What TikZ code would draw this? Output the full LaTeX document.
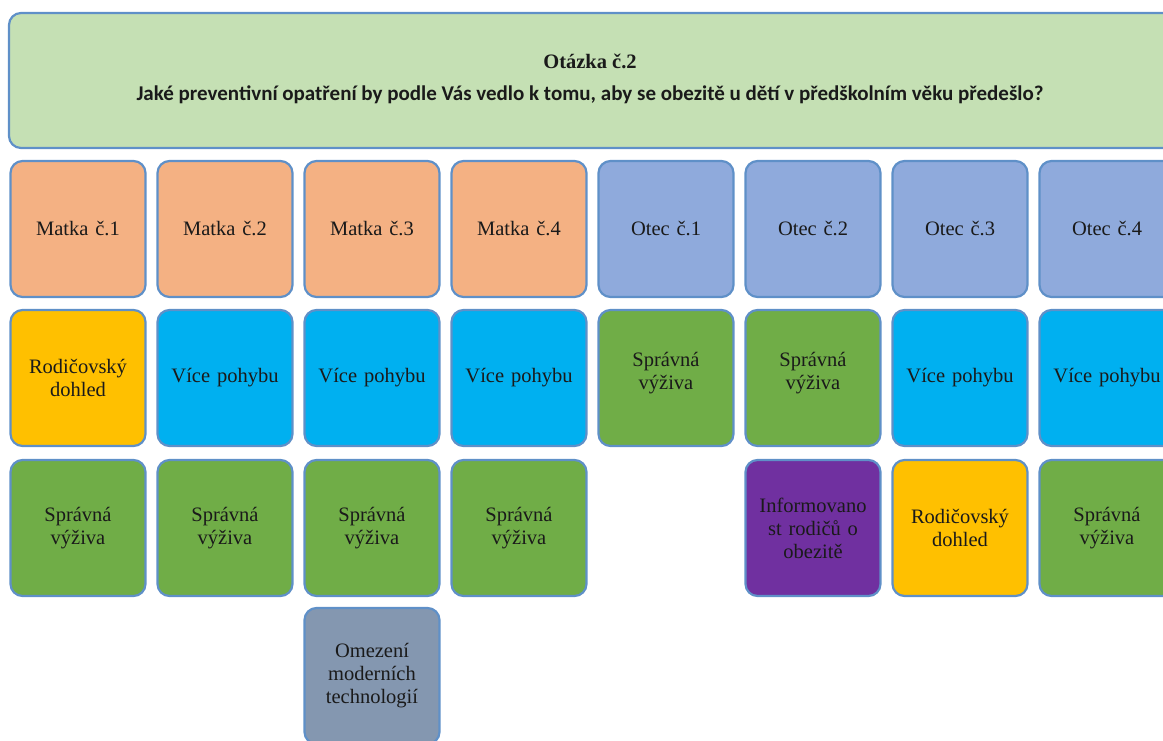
\documentclass[tikz,border=0pt]{standalone}
\usepackage{fontspec}
\setmainfont{Liberation Serif}
\newfontfamily\calib{Carlito}
\definecolor{bordc}{HTML}{5F90C8}
\definecolor{topg}{HTML}{C5E0B4}
\definecolor{matka}{HTML}{F4B183}
\definecolor{otec}{HTML}{8FAADC}
\definecolor{pohyb}{HTML}{00B0F0}
\definecolor{vyziva}{HTML}{70AD47}
\definecolor{dohled}{HTML}{FFC000}
\definecolor{info}{HTML}{7030A0}
\definecolor{omez}{HTML}{8497B0}
\definecolor{txt}{HTML}{1A1A1A}
\begin{document}
\begin{tikzpicture}[x=1pt,y=-1pt,
  cell/.style={draw=bordc, line width=2.2pt, rounded corners=12pt,
    minimum width=135pt, minimum height=136pt, text width=130pt,
    align=center, inner sep=0pt, text=txt,
    font=\fontsize{20.5}{23}\selectfont},
  topbox/.style={draw=bordc, line width=2.2pt, rounded corners=12pt, fill=topg},
  title/.style={text=txt, inner sep=0pt, anchor=base}]
\useasboundingbox (0,0) rectangle (1163,740);
\clip (0,0) rectangle (1163,740);
\draw[topbox] (9,13) rectangle (1175,148);
\node[title, font=\fontsize{20.5}{22}\selectfont\bfseries] (t1) at (590,68) {Otázka č.2};
\node[title, font=\calib\fontsize{21}{22}\selectfont\bfseries] (t2) at (590,100) {Jaké preventivní opatření by podle Vás vedlo k tomu, aby se obezitě u dětí v předškolním věku předešlo?};
% row 1
\node[cell, fill=matka] (m1) at (78,229) {Matka č.1};
\node[cell, fill=matka] (m2) at (225,229) {Matka č.2};
\node[cell, fill=matka] (m3) at (372,229) {Matka č.3};
\node[cell, fill=matka] (m4) at (519,229) {Matka č.4};
\node[cell, fill=otec] (o1) at (666,229) {Otec č.1};
\node[cell, fill=otec] (o2) at (813,229) {Otec č.2};
\node[cell, fill=otec] (o3) at (960,229) {Otec č.3};
\node[cell, fill=otec] (o4) at (1107,229) {Otec č.4};
% row 2
\node[cell, fill=dohled] (m1b) at (78,378) {Rodičovský\\dohled};
\node[cell, fill=pohyb] (m2b) at (225,378) {Více pohybu};
\node[cell, fill=pohyb] (m3b) at (372,378) {Více pohybu};
\node[cell, fill=pohyb] (m4b) at (519,378) {Více pohybu};
\node[cell, fill=vyziva] (o1b) at (666,378) {Správná\\výživa\\[-9pt]\mbox{}};
\node[cell, fill=vyziva] (o2b) at (813,378) {Správná\\výživa\\[-9pt]\mbox{}};
\node[cell, fill=pohyb] (o3b) at (960,378) {Více pohybu};
\node[cell, fill=pohyb] (o4b) at (1107,378) {Více pohybu};
% row 3
\node[cell, fill=vyziva] (m1c) at (78,528) {Správná\\výživa};
\node[cell, fill=vyziva] (m2c) at (225,528) {Správná\\výživa};
\node[cell, fill=vyziva] (m3c) at (372,528) {Správná\\výživa};
\node[cell, fill=vyziva] (m4c) at (519,528) {Správná\\výživa};
\node[cell, fill=info] (o2c) at (813,528) {Informovano\\st rodičů o\\obezitě};
\node[cell, fill=dohled] (o3c) at (960,528) {Rodičovský\\dohled};
\node[cell, fill=vyziva] (o4c) at (1107,528) {Správná\\výživa};
% row 4
\node[cell, fill=omez] (m3d) at (372,676) {Omezení\\moderních\\technologií};
\end{tikzpicture}
\end{document}
